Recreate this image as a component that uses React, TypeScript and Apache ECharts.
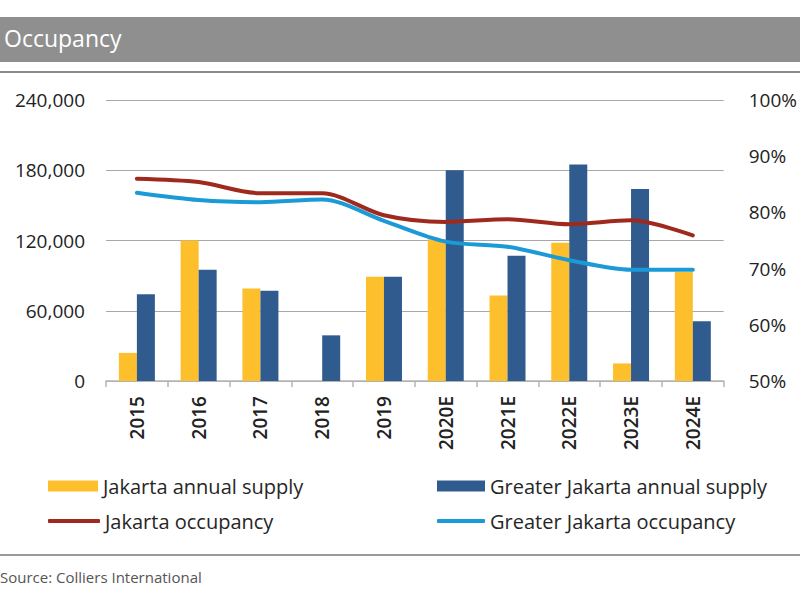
import React, { useEffect, useRef } from "react";
import * as echarts from "echarts";

const categories = ["2015", "2016", "2017", "2018", "2019", "2020E", "2021E", "2022E", "2023E", "2024E"];
const jakartaSupply = [24000, 120000, 79000, 0, 89000, 121000, 73000, 118000, 15000, 93000];
const greaterJakartaSupply = [74000, 95000, 77000, 39000, 89000, 180000, 107000, 185000, 164000, 51000];
const jakartaOccupancy = [86.0, 85.4, 83.4, 83.4, 79.5, 78.3, 78.8, 77.9, 78.6, 75.9];
const greaterJakartaOccupancy = [83.5, 82.2, 81.8, 82.3, 78.5, 74.8, 73.9, 71.5, 69.8, 69.8];

const FONT = "'Open Sans', 'Liberation Sans', sans-serif";
const YELLOW = "#FDBF2B";
const NAVY = "#305B8F";
const RED = "#A0291D";
const CYAN = "#1A9AD6";

export default function App() {
  const ref = useRef<HTMLDivElement>(null);

  useEffect(() => {
    if (!ref.current) return;
    const chart = echarts.init(ref.current, null, { renderer: "svg" });
    const legendText = { fontFamily: FONT, fontSize: 20, color: "#262626" };
    const option: any = {
      animation: false,
      backgroundColor: "#ffffff",
      textStyle: { fontFamily: FONT },
      title: {
        text: "Occupancy",
        left: 4,
        top: 26,
        padding: 0,
        textStyle: { fontFamily: FONT, fontSize: 23, fontWeight: "normal", color: "#ffffff" },
      },
      graphic: [
        { type: "rect", z: -10, shape: { x: 0, y: 17, width: 800, height: 45 }, style: { fill: "#8F8F8F" } },
        { type: "line", z: -10, shape: { x1: 0, y1: 72, x2: 800, y2: 72 }, style: { stroke: "#8A8A8A", lineWidth: 2 } },
        { type: "line", z: -10, shape: { x1: 0, y1: 555, x2: 800, y2: 555 }, style: { stroke: "#9A9A9A", lineWidth: 2 } },
        {
          type: "text",
          x: 0,
          y: 577,
          style: {
            text: "Source: Colliers International",
            fontFamily: FONT,
            fontSize: 15,
            fill: "#555555",
            textVerticalAlign: "middle",
          },
        },
      ],
      legend: [
        { data: ["Jakarta annual supply"], left: 48, top: 476, padding: 0, icon: "rect", itemWidth: 50, itemHeight: 11, textStyle: legendText },
        { data: ["Greater Jakarta annual supply"], left: 437, top: 476, padding: 0, icon: "rect", itemWidth: 48, itemHeight: 11, textStyle: legendText },
        { data: ["Jakarta occupancy"], left: 48, top: 511, padding: 0, icon: "roundRect", itemWidth: 52, itemHeight: 4, textStyle: legendText },
        { data: ["Greater Jakarta occupancy"], left: 437, top: 511, padding: 0, icon: "roundRect", itemWidth: 48, itemHeight: 4, textStyle: legendText },
      ],
      grid: { left: 106, right: 68, top: 100, bottom: 219, containLabel: false },
      xAxis: {
        type: "category",
        data: categories,
        boundaryGap: true,
        axisLine: { show: true, lineStyle: { color: "#B5B5B5", width: 1.5 } },
        axisTick: { show: true, alignWithLabel: false, length: 6, lineStyle: { color: "#B5B5B5", width: 1.5 } },
        axisLabel: {
          rotate: 90,
          margin: 15,
          fontFamily: FONT,
          fontSize: 19,
          fontWeight: 600,
          color: "#222222",
          interval: 0,
        },
      },
      yAxis: [
        {
          type: "value",
          min: 0,
          max: 240000,
          interval: 60000,
          axisLine: { show: false },
          axisTick: { show: false },
          splitLine: { show: true, lineStyle: { color: "#A8A8A8", width: 1 } },
          axisLabel: {
            margin: 21,
            fontFamily: FONT,
            fontSize: 19,
            color: "#222222",
            formatter: (v: number) => v.toLocaleString("en-US"),
          },
        },
        {
          type: "value",
          min: 50,
          max: 100,
          interval: 10,
          position: "right",
          axisLine: { show: false },
          axisTick: { show: false },
          splitLine: { show: false },
          axisLabel: {
            margin: 25,
            fontFamily: FONT,
            fontSize: 19,
            color: "#222222",
            formatter: (v: number) => `${v}%`,
          },
        },
      ],
      series: [
        {
          name: "Jakarta annual supply",
          type: "bar",
          data: jakartaSupply,
          barWidth: 18,
          barGap: "0%",
          itemStyle: { color: YELLOW },
          z: 2,
        },
        {
          name: "Greater Jakarta annual supply",
          type: "bar",
          data: greaterJakartaSupply,
          barWidth: 18,
          barGap: "0%",
          itemStyle: { color: NAVY },
          z: 2,
        },
        {
          name: "Jakarta occupancy",
          type: "line",
          yAxisIndex: 1,
          data: jakartaOccupancy,
          smooth: 0.3,
          symbol: "none",
          itemStyle: { color: RED },
          lineStyle: { color: RED, width: 4, cap: "round" },
          z: 5,
        },
        {
          name: "Greater Jakarta occupancy",
          type: "line",
          yAxisIndex: 1,
          data: greaterJakartaOccupancy,
          smooth: 0.3,
          symbol: "none",
          itemStyle: { color: CYAN },
          lineStyle: { color: CYAN, width: 4, cap: "round" },
          z: 5,
        },
      ],
    };
    chart.setOption(option);
    return () => chart.dispose();
  }, []);

  return (
    <div
      ref={ref}
      style={{ position: "fixed", left: 0, top: 0, width: 800, height: 600, background: "#fff" }}
    />
  );
}
